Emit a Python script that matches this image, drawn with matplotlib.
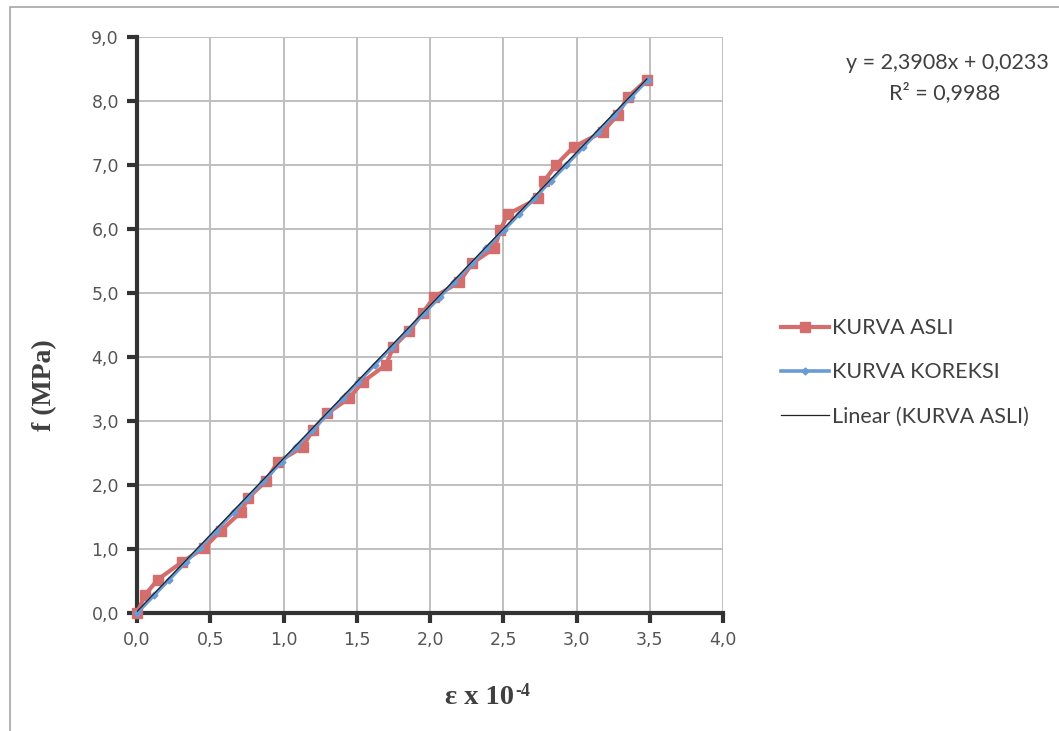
import matplotlib
matplotlib.use("Agg")
import matplotlib.pyplot as plt
from matplotlib.patches import Rectangle
from matplotlib.ticker import FixedLocator

# Measured strain (x 10^-4) and stress (MPa)
strain_asli = [0.00, 0.055, 0.14, 0.31, 0.46, 0.57, 0.71, 0.76, 0.88, 0.96,
               1.13, 1.20, 1.30, 1.45, 1.54, 1.70, 1.75, 1.86, 1.95, 2.03,
               2.20, 2.29, 2.44, 2.48, 2.53, 2.74, 2.78, 2.86, 2.98, 3.18,
               3.28, 3.35, 3.48]
stress_asli = [0.00, 0.28, 0.52, 0.80, 1.02, 1.28, 1.58, 1.80, 2.06, 2.36,
               2.59, 2.86, 3.12, 3.36, 3.61, 3.88, 4.16, 4.41, 4.69, 4.94,
               5.17, 5.47, 5.70, 5.98, 6.23, 6.48, 6.75, 7.00, 7.28, 7.52,
               7.78, 8.06, 8.33]

# Corrected curve
strain_koreksi = [0.000, 0.117, 0.218, 0.335, 0.427, 0.536, 0.661, 0.753, 0.862, 0.987,
                  1.084, 1.197, 1.305, 1.406, 1.510, 1.623, 1.741, 1.845, 1.962, 2.067,
                  2.163, 2.289, 2.385, 2.502, 2.607, 2.711, 2.824, 2.929, 3.046, 3.146,
                  3.255, 3.372, 3.485]
stress_koreksi = stress_asli

# Linear trend of the measured curve
slope = 2.3908
intercept = 0.0233
r_squared = 0.9988
trend_x = [0.0, 3.48]

x_ticks = [0.0, 0.5, 1.0, 1.5, 2.0, 2.5, 3.0, 3.5, 4.0]
y_ticks = [0.0, 1.0, 2.0, 3.0, 4.0, 5.0, 6.0, 7.0, 8.0, 9.0]

W, H = 1059, 731
fig = plt.figure(figsize=(W / 100, H / 100), dpi=100)
fig.patch.set_facecolor("white")

# chart frame
fig.patches.append(Rectangle((10 / W, -0.01), 1.2, (H - 7) / H + 0.01,
                             transform=fig.transFigure, fill=False,
                             edgecolor="#a6a6a6", linewidth=1.2))

ax = fig.add_axes([137 / W, 1 - 613 / H, (723 - 137) / W, (613 - 37) / H])
ax.set_xlim(0, 4.0)
ax.set_ylim(0, 9.0)

ax.xaxis.set_major_locator(FixedLocator(x_ticks))
ax.yaxis.set_major_locator(FixedLocator(y_ticks))
ax.set_xticklabels([f"{v:.1f}".replace(".", ",") for v in x_ticks])
ax.set_yticklabels([f"{v:.1f}".replace(".", ",") for v in y_ticks])

ax.grid(True, color="#bfbfbf", linewidth=1.4)
ax.set_axisbelow(True)
for s in ("top", "right"):
    ax.spines[s].set_visible(False)
for s in ("left", "bottom"):
    ax.spines[s].set_color("#333333")
    ax.spines[s].set_linewidth(3)
ax.tick_params(axis="both", direction="out", length=7, width=3, color="#333333",
               labelsize=12.5, labelcolor="#555555", pad=6)
for lab in ax.get_xticklabels() + ax.get_yticklabels():
    lab.set_fontfamily("DejaVu Sans")

ax.plot(strain_asli, stress_asli, color="#d36e6c", linewidth=3.0, marker="s",
        markersize=6.5, label="KURVA ASLI", zorder=3, clip_on=False)
ax.plot(strain_koreksi, stress_koreksi, color="#6b9bd6", linewidth=2.6, marker="D",
        markersize=3.5, label="KURVA KOREKSI", zorder=4, clip_on=False)
trend_y = [slope * x + intercept for x in trend_x]
ax.plot(trend_x, trend_y, color="#222222", linewidth=0.9,
        label="Linear (KURVA ASLI)", zorder=5)

# axis titles
fig.text(45 / W, 1 - 385 / H, "f (MPa)", rotation=90, ha="center", va="center",
         fontsize=20, fontweight="bold", family="Liberation Serif", color="#404040")
base = fig.text(445 / W, 1 - 698 / H, "ε x 10", ha="left", va="center",
                fontsize=20.5, fontweight="bold", family="Liberation Serif", color="#404040")
fig.canvas.draw()
bb = base.get_window_extent(renderer=fig.canvas.get_renderer())
fig.text((bb.x1 + 1) / W, (bb.y1 - 6) / H, "-4", ha="left", va="center",
         fontsize=13, fontweight="bold", family="Liberation Serif", color="#404040")

# trendline equation
fig.text(947 / W, 1 - 63 / H, "y = 2,3908x + 0,0233", ha="center", va="center",
         fontsize=15.5, family="Lato", color="#404040")
fig.text(945 / W, 1 - 93 / H, "R² = 0,9988", ha="center", va="center",
         fontsize=15.5, family="Lato", color="#404040")

leg = ax.legend(loc="upper left", bbox_to_anchor=(762 / W, 1 - 299 / H),
                bbox_transform=fig.transFigure, frameon=False,
                prop={"family": "Lato", "size": 15.5},
                handlelength=2.2, handletextpad=0.15, labelspacing=1.12, markerscale=1.0)
for t in leg.get_texts():
    t.set_color("#404040")

fig.savefig("out.png", dpi=100, facecolor="white")
